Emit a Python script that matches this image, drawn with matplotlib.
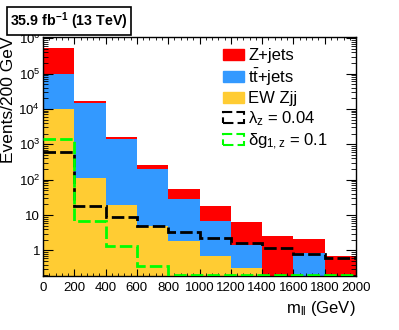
import numpy as np
import matplotlib
matplotlib.use('Agg')
import matplotlib.pyplot as plt
from matplotlib.patches import Patch
from matplotlib.ticker import MultipleLocator, FixedLocator, LogLocator, NullFormatter, FixedFormatter

# ---- data ----
bin_edges = [0, 200, 400, 600, 800, 1000, 1200, 1400, 1600, 1800, 2000]
ew_zjj = [9700, 113, 19.5, 5.0, 1.8, 0.71, 0.32, 0, 0, 0]
ttbar_jets = [88000, 14900, 1410, 198, 27, 6.3, 1.13, 0, 0.84, 0]
z_jets = [432000, 2000, 200, 60, 26, 10.5, 4.85, 2.6, 1.26, 0.68]
lambda_z = [625, 18.3, 8.8, 5.0, 3.4, 2.3, 1.6, 1.14, 0.82, 0.61]
delta_g1z = [1400, 7.0, 1.3, 0.37, 0.2, 0.2, 0.2, 0.2, 0.2, 0.2]
ytick_vals = [1, 10, 100, 1e3, 1e4, 1e5, 1e6]
ytick_labels = ['1', '10', '10$^{2}$', '10$^{3}$', '10$^{4}$', '10$^{5}$', '10$^{6}$']

plt.rcParams['font.family'] = ['Liberation Sans', 'DejaVu Sans']
plt.rcParams['mathtext.fontset'] = 'custom'
plt.rcParams['mathtext.rm'] = 'Liberation Sans'
plt.rcParams['mathtext.it'] = 'Liberation Sans'
plt.rcParams['mathtext.bf'] = 'Liberation Sans:bold'

fig = plt.figure(figsize=(3.99, 3.30), dpi=100)
ax = fig.add_axes([0.1078, 0.1636, 0.7845, 0.7252])
ax.set_yscale('log')

edges = np.array(bin_edges, dtype=float)
left = edges[:-1]
width = np.diff(edges)
ew = np.array(ew_zjj)
tt = np.array(ttbar_jets)
zj = np.array(z_jets)
floor = 1e-3

ax.bar(left, ew, width=width, bottom=floor, align='edge', color='#ffcc33', lw=0)
ax.bar(left, tt, width=width, bottom=floor + ew, align='edge', color='#3399ff', lw=0)
ax.bar(left, zj, width=width, bottom=floor + ew + tt, align='edge', color='#ff0000', lw=0)

ax.stairs(lambda_z, edges, baseline=None, color='black', lw=2, linestyle=(0, (4.5, 1.5)), zorder=3)
ax.stairs(delta_g1z, edges, baseline=None, color='#00ff00', lw=2, linestyle=(0, (4.5, 1.5)), zorder=3)

ax.set_xlim(0, 2000)
ax.set_ylim(0.19, 1.1e6)

ax.xaxis.set_major_locator(MultipleLocator(200))
ax.xaxis.set_minor_locator(MultipleLocator(40))
ax.yaxis.set_major_locator(FixedLocator(ytick_vals))
ax.yaxis.set_major_formatter(FixedFormatter(ytick_labels))
ax.yaxis.set_minor_locator(LogLocator(base=10, subs=np.arange(2, 10), numticks=20))
ax.yaxis.set_minor_formatter(NullFormatter())

ax.tick_params(which='both', direction='in', top=True, right=True, labelsize=9.5)
ax.tick_params(axis='x', which='major', length=5, pad=4)
ax.tick_params(axis='x', which='minor', length=2.5)
ax.tick_params(axis='y', which='major', length=7, pad=2)
ax.tick_params(axis='y', which='minor', length=3.5)
for s in ax.spines.values():
    s.set_linewidth(1)

ax.set_ylabel('Events/200 GeV', fontsize=12.5, loc='top')
ax.yaxis.set_label_coords(-0.086, 1.0)
ax.set_xlabel('m$_{ll}$ (GeV)', fontsize=12, loc='right')
ax.xaxis.set_label_coords(1.0, -0.096)

handles = [
    Patch(facecolor='#ff0000', edgecolor='#ff0000'),
    Patch(facecolor='#3399ff', edgecolor='#3399ff'),
    Patch(facecolor='#ffcc33', edgecolor='#ffcc33'),
    Patch(facecolor='none', edgecolor='black', linestyle=(0, (5, 2)), lw=1.5),
    Patch(facecolor='none', edgecolor='#00ff00', linestyle=(0, (5, 2)), lw=1.5),
]
labels = ['Z+jets', 't$\\bar{t}$+jets', 'EW Zjj', '$\\lambda_{z}$ = 0.04', '$\\delta g_{1,z}$ = 0.1']
ax.legend(handles, labels, loc='upper left', bbox_to_anchor=(0.575, 0.952), frameon=False,
          fontsize=12, handlelength=1.26, handleheight=0.65, labelspacing=0.2,
          handletextpad=0.25, borderpad=0, borderaxespad=0)

fig.text(0.025, 0.970, '35.9 fb$^{\\mathbf{-1}}$ (13 TeV)', fontsize=10.3, fontweight='bold',
         ha='left', va='top',
         bbox=dict(boxstyle='square,pad=0.22', facecolor='white', edgecolor='black', lw=1.2))

fig.savefig('out.png', dpi=100)
